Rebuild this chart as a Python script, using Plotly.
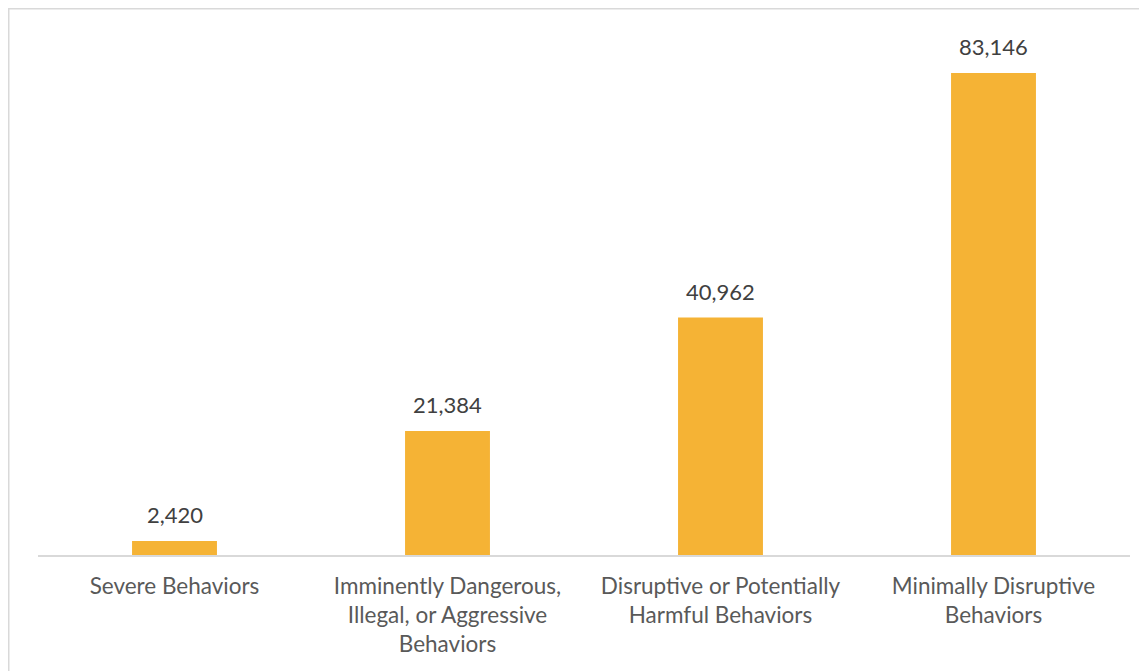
import plotly.graph_objects as go

categories = [
    "Severe Behaviors",
    "Imminently Dangerous,<br>Illegal, or Aggressive<br>Behaviors",
    "Disruptive or Potentially<br>Harmful Behaviors",
    "Minimally Disruptive<br>Behaviors",
]
values = [2420, 21384, 40962, 83146]
value_labels = [f"{v:,}" for v in values]

# page body has an 8px margin, so the figure origin sits at screen (8, 8)
OFF = 8
W, H = 1147, 671
L, R, T, B = 38 - OFF, W - 1130 + OFF, 20 - OFF, H - 555 + OFF
plot_w = W - L - R
plot_h = H - T - B

def px_x(px):
    return (px - L) / plot_w

def px_y(py):
    return (H - B - py) / plot_h

FONT = "Lato"
fig = go.Figure()
fig.add_trace(go.Bar(
    x=categories, y=values,
    marker=dict(color="#F5B335", line=dict(width=0)),
    width=0.311,
    hoverinfo="skip",
))

for c, v, lab in zip(categories, values, value_labels):
    fig.add_annotation(
        x=c, y=v, xref="x", yref="y", text=lab, showarrow=False,
        yanchor="bottom", yshift=11,
        font=dict(family=FONT, size=22, color="#404040"),
    )

# outer chart border (partially cropped)
fig.add_shape(type="rect", xref="paper", yref="paper",
              x0=px_x(0.75), x1=px_x(1200), y0=px_y(720), y1=px_y(0.75),
              line=dict(color="#D9D9D9", width=1.5), layer="below")

fig.update_layout(
    width=W, height=H,
    margin=dict(l=L, r=R, t=T, b=B, pad=0),
    paper_bgcolor="white", plot_bgcolor="white",
    showlegend=False,
    bargap=0.689,
    font=dict(family=FONT, size=22, color="#595959"),
)
fig.update_xaxes(
    showline=True, linecolor="#D9D9D9", linewidth=1.5,
    showgrid=False, ticks="", tickfont=dict(family=FONT, size=22.5, color="#595959"),
    ticklabelstandoff=10, tickangle=0,
)
fig.update_yaxes(
    range=[0, 92290], visible=False, showgrid=False, zeroline=False,
)

fig.write_html("out.html")
